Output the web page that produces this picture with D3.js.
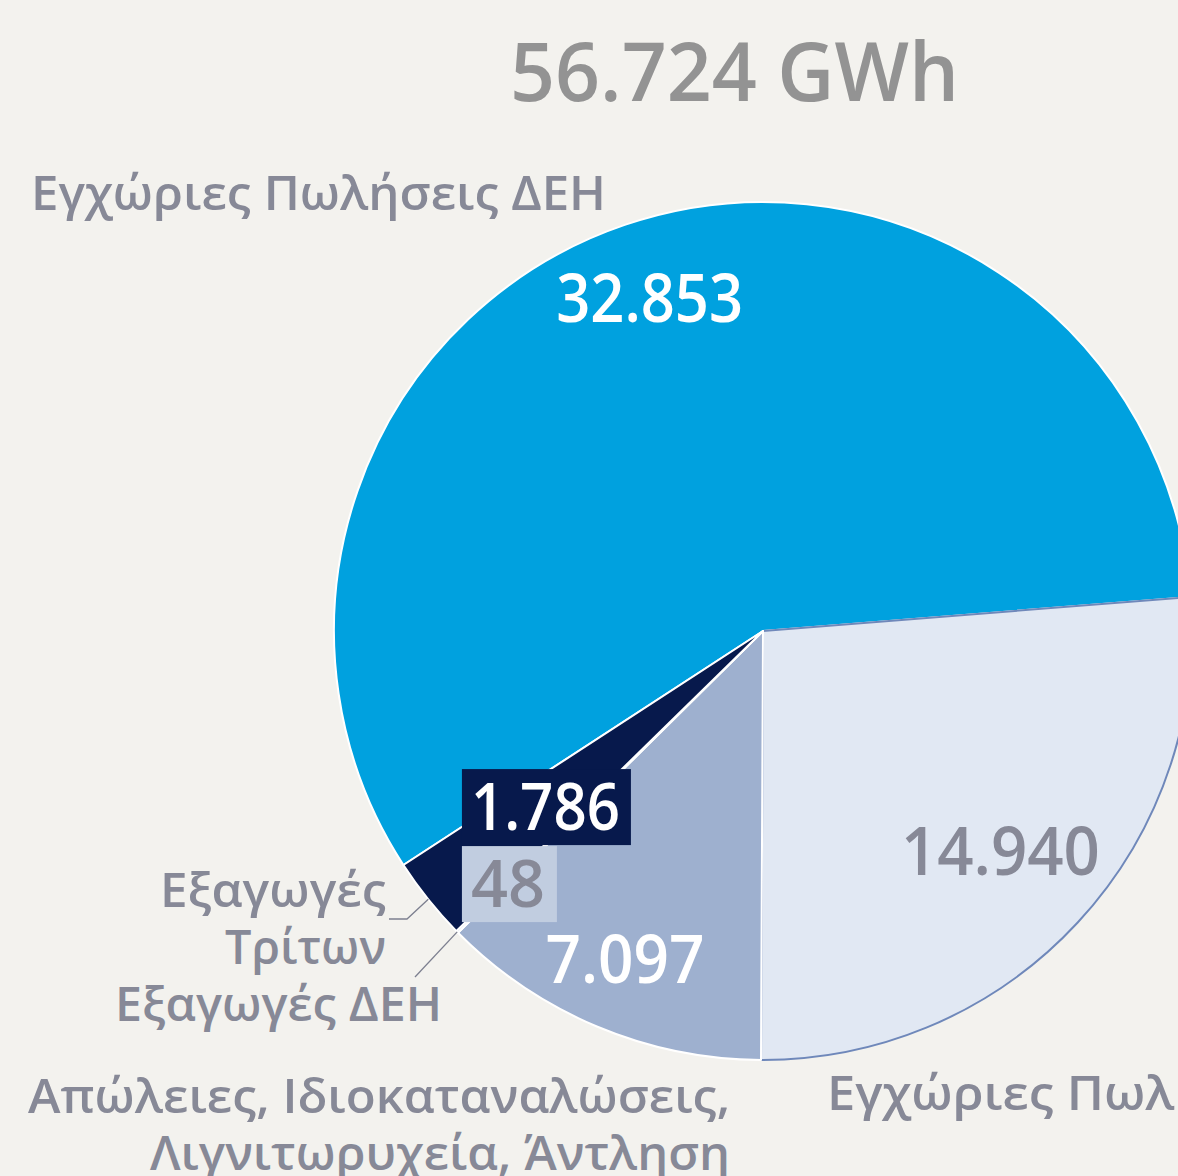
<!DOCTYPE html>
<html>
<head>
<meta charset="utf-8">
<script src="https://cdn.jsdelivr.net/npm/d3@7"></script>
<style>
  body { margin: 0; background: #f3f2ee; }
  svg { display: block; font-family: "Open Sans", "Noto Sans", sans-serif; }
</style>
</head>
<body>
<div id="chart"></div>
<script>
// slice order follows the picture, clockwise from the right edge
const categories = [
    "Εγχώριες Πωλήσεις Τρίτων",
    "Απώλειες, Ιδιοκαταναλώσεις, Λιγνιτωρυχεία, Άντληση",
    "Εξαγωγές ΔΕΗ",
    "Εξαγωγές Τρίτων",
    "Εγχώριες Πωλήσεις ΔΕΗ"
];
const values = [14940, 7097, 48, 1786, 32853];
const colors = ["#e1e8f3", "#9eb0cf", "#c1cde0", "#07194c", "#00a1df"];
const totalLabel = "56.724 GWh";

const width = 1178, height = 1176;
const cx = 763, cy = 631, radius = 429;
const labelGray = "#878997";

const fmt = d3.formatLocale({ decimal: ",", thousands: ".", grouping: [3], currency: ["", "€"] }).format(",d");

const svg = d3.select("#chart").append("svg")
    .attr("width", width)
    .attr("height", height);

svg.append("rect")
    .attr("width", width)
    .attr("height", height)
    .attr("fill", "#f3f2ee");

// fit a text element to a measured width
function fit(sel, w) {
    sel.attr("textLength", w).attr("lengthAdjust", "spacingAndGlyphs");
    return sel;
}

const data = categories.map((c, i) => ({ name: c, value: values[i], color: colors[i], i: i }));

const start = 85.45 * Math.PI / 180;
const pie = d3.pie().sort(null).value(d => d.value)
    .startAngle(start).endAngle(start + 2 * Math.PI);
const arcs = pie(data);

const arc = d3.arc().innerRadius(0).outerRadius(radius);

const g = svg.append("g").attr("transform", `translate(${cx},${cy})`);

// draw the big slice first so the light slice keeps its blue outline
const drawOrder = [4, 0, 1, 2, 3];
g.selectAll("path.slice")
    .data(drawOrder.map(k => arcs[k]))
    .enter().append("path")
    .attr("class", "slice")
    .attr("d", arc)
    .attr("fill", d => d.data.color)
    .attr("stroke", d => d.data.i === 0 ? "#6f88ba" : "#ffffff")
    .attr("stroke-width", 2)
    .attr("stroke-linejoin", "round");

function pointAt(angle, r) {
    return [cx + Math.sin(angle) * r, cy - Math.cos(angle) * r];
}
function mid(a) { return (a.startAngle + a.endAngle) / 2; }

// value labels inside the larger slices
const insideLabels = [
    { k: 4, rf: 0.82, fill: "#ffffff", w: 187 },
    { k: 0, rf: 0.755, fill: labelGray, w: 199 },
    { k: 1, rf: 0.83, fill: "#ffffff", w: 159 }
];
insideLabels.forEach(l => {
    const a = arcs[l.k];
    const p = pointAt(mid(a), radius * l.rf);
    fit(svg.append("text")
        .attr("x", p[0])
        .attr("y", p[1] + 24)
        .attr("text-anchor", "middle")
        .attr("font-size", 67)
        .attr("font-weight", 600)
        .attr("fill", l.fill)
        .text(fmt(a.data.value)), l.w);
});

// boxed labels for the two tiny slices
const edge = pointAt(arcs[3].startAngle, radius);
const bx = edge[0] + 5.5, by = edge[1] - 9;
const boxes = [
    { k: 2, y: by - 76, w: 95, h: 76, fill: "#c1cde0", text: labelGray, tw: 74 },
    { k: 3, y: by - 153, w: 169, h: 76, fill: "#07194c", text: "#ffffff", tw: 149 }
];
boxes.forEach(b => {
    svg.append("rect")
        .attr("x", bx).attr("y", b.y)
        .attr("width", b.w).attr("height", b.h)
        .attr("fill", b.fill);
    fit(svg.append("text")
        .attr("x", bx + 9)
        .attr("y", b.y + 61)
        .attr("font-size", 66)
        .attr("font-weight", 600)
        .attr("fill", b.text)
        .text(fmt(arcs[b.k].data.value)), b.tw);
});

// leader lines to the tiny slices
const p3 = pointAt(mid(arcs[3]), radius);
const p2 = pointAt(mid(arcs[2]), radius);
const line = d3.line();
svg.append("path")
    .attr("d", line([[389, 919], [407, 919], p3]))
    .attr("fill", "none").attr("stroke", "#7d8090").attr("stroke-width", 1.3);
svg.append("path")
    .attr("d", line([[415, 977], p2]))
    .attr("fill", "none").attr("stroke", "#7d8090").attr("stroke-width", 1.3);

// title
fit(svg.append("text")
    .attr("x", 510)
    .attr("y", 101)
    .attr("font-size", 81)
    .attr("font-weight", 600)
    .attr("fill", "#939393")
    .text(totalLabel), 449);

// category labels
const catLabels = [
    { text: "Εγχώριες Πωλήσεις ΔΕΗ", x: 31, y: 210, anchor: "start", w: 575 },
    { text: "Εξαγωγές", x: 386, y: 907, anchor: "end", w: 226 },
    { text: "Τρίτων", x: 386, y: 964, anchor: "end", w: 161 },
    { text: "Εξαγωγές ΔΕΗ", x: 442, y: 1021, anchor: "end", w: 327 },
    { text: "Απώλειες, Ιδιοκαταναλώσεις,", x: 28, y: 1113, anchor: "start", w: 702 },
    { text: "Λιγνιτωρυχεία, Άντληση", x: 730, y: 1170, anchor: "end", w: 580 },
    { text: "Εγχώριες Πωλήσεις Τρίτων", x: 827, y: 1110, anchor: "start", w: null }
];
let ratio = 1;
catLabels.forEach((l, i) => {
    const t = svg.append("text")
        .attr("x", l.x)
        .attr("y", l.y)
        .attr("text-anchor", l.anchor)
        .attr("font-size", 47)
        .attr("font-weight", 600)
        .attr("fill", labelGray)
        .text(l.text);
    const natural = t.node().getComputedTextLength();
    if (i === 0) ratio = l.w / natural;
    fit(t, l.w ? l.w : natural * ratio * 1.03);
});
</script>
</body>
</html>
